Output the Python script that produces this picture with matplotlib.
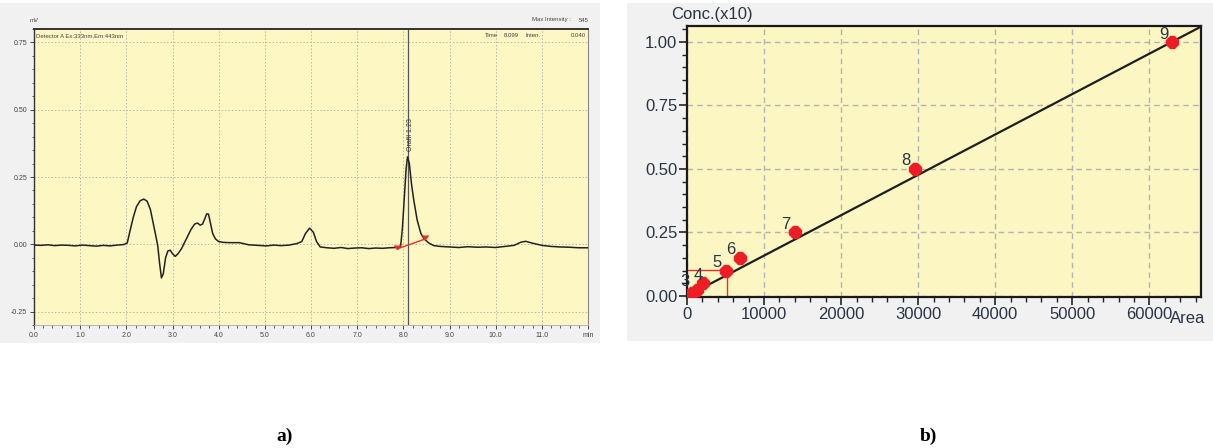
import matplotlib
matplotlib.use("Agg")
import matplotlib.pyplot as plt
from matplotlib.patches import Rectangle
from matplotlib.ticker import MultipleLocator

NARROW = ["Liberation Sans", "DejaVu Sans"]

# ---- a) chromatogram ----
trace_t = [0.00, 0.15, 0.30, 0.45, 0.60, 0.75, 0.90, 1.05, 1.20, 1.35, 1.50, 1.65, 1.80, 1.95,
           2.02, 2.08, 2.15, 2.22, 2.30, 2.38, 2.45, 2.52, 2.58, 2.64, 2.68, 2.72, 2.76, 2.80,
           2.85, 2.90, 2.95, 3.00, 3.06, 3.12, 3.20, 3.30, 3.40, 3.48, 3.54, 3.60, 3.65, 3.70,
           3.74, 3.78, 3.82, 3.87, 3.93, 4.00, 4.10, 4.25, 4.45, 4.65, 4.85, 5.03, 5.20, 5.35,
           5.53, 5.70, 5.80, 5.88, 5.97, 6.05, 6.12, 6.20, 6.35, 6.50, 6.65, 6.80, 6.95, 7.10,
           7.25, 7.40, 7.55, 7.70, 7.85, 7.94, 7.98, 8.02, 8.06, 8.09, 8.13, 8.18, 8.23, 8.30,
           8.38, 8.45, 8.55, 8.66, 8.80, 9.00, 9.20, 9.40, 9.60, 9.80, 10.00, 10.20, 10.40,
           10.55, 10.65, 10.80, 11.00, 11.20, 11.40, 11.60, 11.80, 12.00]
trace_mv = [-0.003, -0.004, -0.002, -0.005, -0.003, -0.004, -0.006, -0.003, -0.005, -0.007,
            -0.004, -0.006, -0.003, -0.001, 0.005, 0.050, 0.100, 0.140, 0.162, 0.168, 0.160,
            0.130, 0.080, 0.030, -0.005, -0.070, -0.125, -0.110, -0.050, -0.025, -0.022,
            -0.035, -0.045, -0.035, -0.015, 0.020, 0.055, 0.075, 0.079, 0.071, 0.075, 0.095,
            0.113, 0.112, 0.080, 0.040, 0.020, 0.010, 0.007, 0.006, 0.006, -0.002, -0.004,
            -0.006, -0.003, -0.005, -0.003, 0.003, 0.010, 0.040, 0.060, 0.045, 0.010, -0.010,
            -0.013, -0.015, -0.012, -0.016, -0.014, -0.013, -0.016, -0.014, -0.015, -0.013,
            -0.012, -0.010, 0.060, 0.170, 0.280, 0.325, 0.300, 0.220, 0.160, 0.090, 0.040,
            0.020, 0.005, -0.005, -0.008, -0.010, -0.012, -0.009, -0.011, -0.010, -0.012,
            -0.008, -0.004, 0.008, 0.011, 0.004, -0.004, -0.008, -0.010, -0.011, -0.013, -0.013]
peak_time = 8.099
peak_name = "Orafil 1.23"
base_t = [7.87, 8.48]
base_mv = [-0.017, 0.020]
chrom_xticks = [0, 1, 2, 3, 4, 5, 6, 7, 8, 9, 10, 11, 12]
chrom_xlabels = ["0.0", "1.0", "2.0", "3.0", "4.0", "5.0", "6.0", "7.0", "8.0", "9.0",
                 "10.0", "11.0", "min"]
chrom_yticks = [-0.25, 0.0, 0.25, 0.50, 0.75]
chrom_ylabels = ["-0.25", "0.00", "0.25", "0.50", "0.75"]

# ---- b) calibration curve ----
cal_area = [250, 600, 1300, 2100, 5000, 6900, 14000, 29600, 63000]
cal_conc = [0.005, 0.010, 0.025, 0.050, 0.100, 0.150, 0.250, 0.500, 1.000]
cal_ids = ["1", "2", "3", "4", "5", "6", "7", "8", "9"]
fit_slope = 1.59e-5
fit_intercept = 0.0
fit_area = [0, 66800]
cross_area = 5250
cross_conc = 0.104
cal_xticks = [0, 10000, 20000, 30000, 40000, 50000, 60000]
cal_yticks = [0.00, 0.25, 0.50, 0.75, 1.00]

W, H = 1213, 448
fig = plt.figure(figsize=(W / 100, H / 100), dpi=100)
fig.patch.set_facecolor("white")


def fbox(x0, y0, x1, y1):
    # pixel box (top-left origin) -> figure fraction rect
    return [x0 / W, 1 - y1 / H, (x1 - x0) / W, (y1 - y0) / H]


for x0, y0, x1, y1 in [(0, 3, 600, 343), (627, 3, 1213, 341)]:
    l, b, w, h = fbox(x0, y0, x1, y1)
    fig.patches.append(Rectangle((l, b), w, h, transform=fig.transFigure,
                                 facecolor="#f0f1f0", edgecolor="none", zorder=-10))

# ---------- left panel ----------
axa = fig.add_axes(fbox(34, 29, 588, 325))
axa.set_facecolor("#fdf7c3")
axa.plot(trace_t, trace_mv, color="#222222", lw=1.1, zorder=3)
axa.plot(base_t, base_mv, color="#e8302a", lw=1.0, zorder=4)
axa.plot([base_t[0]], [base_mv[0]], marker=7, color="#e8302a", ms=4, zorder=4)
axa.plot([base_t[1]], [base_mv[1]], marker=7, color="#e8302a", ms=4, zorder=4)
axa.axvline(peak_time, color="#555555", lw=0.9, zorder=2)
axa.text(peak_time + 0.05, 0.345, peak_name, rotation=90, ha="center", va="bottom",
         fontsize=5, family=NARROW, color="#333333")
axa.set_xlim(0, 12)
axa.set_ylim(-0.30, 0.80)
axa.set_xticks(chrom_xticks)
axa.set_xticklabels(chrom_xlabels)
axa.set_yticks(chrom_yticks)
axa.set_yticklabels(chrom_ylabels)
axa.xaxis.set_minor_locator(MultipleLocator(0.2))
axa.yaxis.set_minor_locator(MultipleLocator(0.05))
axa.tick_params(which="major", length=3, width=0.7, color="#444444", pad=2,
                labelsize=5, labelcolor="#444444")
axa.tick_params(which="minor", length=1.8, width=0.6, color="#444444")
for lab in axa.get_xticklabels() + axa.get_yticklabels():
    lab.set_family(NARROW)
axa.grid(True, which="major", color="#b8b8a8", ls=(0, (1.5, 2)), lw=0.7)
axa.set_axisbelow(True)
for side, col, lw in [("top", "#333333", 1.4), ("left", "#333333", 1.0),
                      ("right", "#888888", 0.8), ("bottom", "#aaaaaa", 0.6)]:
    axa.spines[side].set_color(col)
    axa.spines[side].set_linewidth(lw)
tiny = dict(fontsize=4.3, family=NARROW, color="#444444")
axa.text(0.003, 0.985, "Detector A Ex:333nm,Em:443nm", transform=axa.transAxes,
         ha="left", va="top", **tiny)
axa.text(0.826, 0.985, "Time", transform=axa.transAxes, ha="center", va="top", **tiny)
axa.text(0.861, 0.985, "8.099", transform=axa.transAxes, ha="center", va="top", **tiny)
axa.text(0.900, 0.985, "Inten.", transform=axa.transAxes, ha="center", va="top", **tiny)
axa.text(0.997, 0.985, "0.040", transform=axa.transAxes, ha="right", va="top", **tiny)
fig.text(34 / W, 1 - 20 / H, "mV", ha="center", va="center", **tiny)
fig.text(571 / W, 1 - 20 / H, "Max Intensity :", ha="right", va="center", **tiny)
fig.text(589 / W, 1 - 20 / H, "545", ha="right", va="center", **tiny)

# ---------- right panel ----------
lab_font = dict(fontsize=12, family=NARROW, color="#2b3445")
axb = fig.add_axes(fbox(687, 26, 1201, 297))
axb.set_facecolor("#fbf6c2")
fit_conc = [fit_slope * a + fit_intercept for a in fit_area]
axb.plot(fit_area, fit_conc, color="#1e1e1e", lw=1.6, zorder=3)
axb.plot([0, cross_area], [cross_conc, cross_conc], color="#e8302a", lw=1.0, zorder=2)
axb.plot([cross_area, cross_area], [0, cross_conc], color="#e8302a", lw=1.0, zorder=2)
axb.plot(cal_area, cal_conc, ls="none", marker="8", ms=9, color="#ee1c25",
         mec="#ee1c25", zorder=4)
label_dx = {"3": -12, "4": -5}
for a, c, lab in zip(cal_area, cal_conc, cal_ids):
    if lab in ("1", "2"):
        continue
    axb.annotate(lab, (a, c), xytext=(label_dx.get(lab, -9), 8),
                 textcoords="offset pixels", ha="center", va="center", zorder=5,
                 **lab_font)
axb.set_xlim(0, 66700)
axb.set_ylim(-0.004, 1.063)
axb.set_xticks(cal_xticks)
axb.set_yticks(cal_yticks)
axb.set_xticklabels([str(v) for v in cal_xticks])
axb.set_yticklabels([f"{v:.2f}" for v in cal_yticks])
axb.xaxis.set_minor_locator(MultipleLocator(2000))
axb.yaxis.set_minor_locator(MultipleLocator(0.05))
axb.tick_params(which="major", length=6, width=1.2, color="#222222", pad=1,
                labelsize=12, labelcolor="#2b3445")
axb.tick_params(which="minor", length=3.5, width=1.0, color="#222222")
for lab in axb.get_xticklabels() + axb.get_yticklabels():
    lab.set_family(NARROW)
axb.grid(True, which="major", color="#b4b4b4", ls=(0, (4, 3)), lw=1.0)
axb.set_axisbelow(True)
for side in ["top", "left", "right", "bottom"]:
    axb.spines[side].set_color("#1a1a1a")
    axb.spines[side].set_linewidth(1.6)
axb.text(0.049, 1.043, "Conc.(x10)", transform=axb.transAxes, ha="center", va="center",
         **lab_font)
axb.text(0.940, -0.079, "Area", transform=axb.transAxes, ha="left", va="center",
         **lab_font)

# ---------- panel captions ----------
cap = dict(fontsize=14, fontweight="bold", family=["Liberation Serif", "DejaVu Serif"],
           ha="center", va="center", color="black")
fig.text(285 / W, 1 - 436 / H, "a)", **cap)
fig.text(928 / W, 1 - 436 / H, "b)", **cap)

fig.savefig("out.png", dpi=100)
